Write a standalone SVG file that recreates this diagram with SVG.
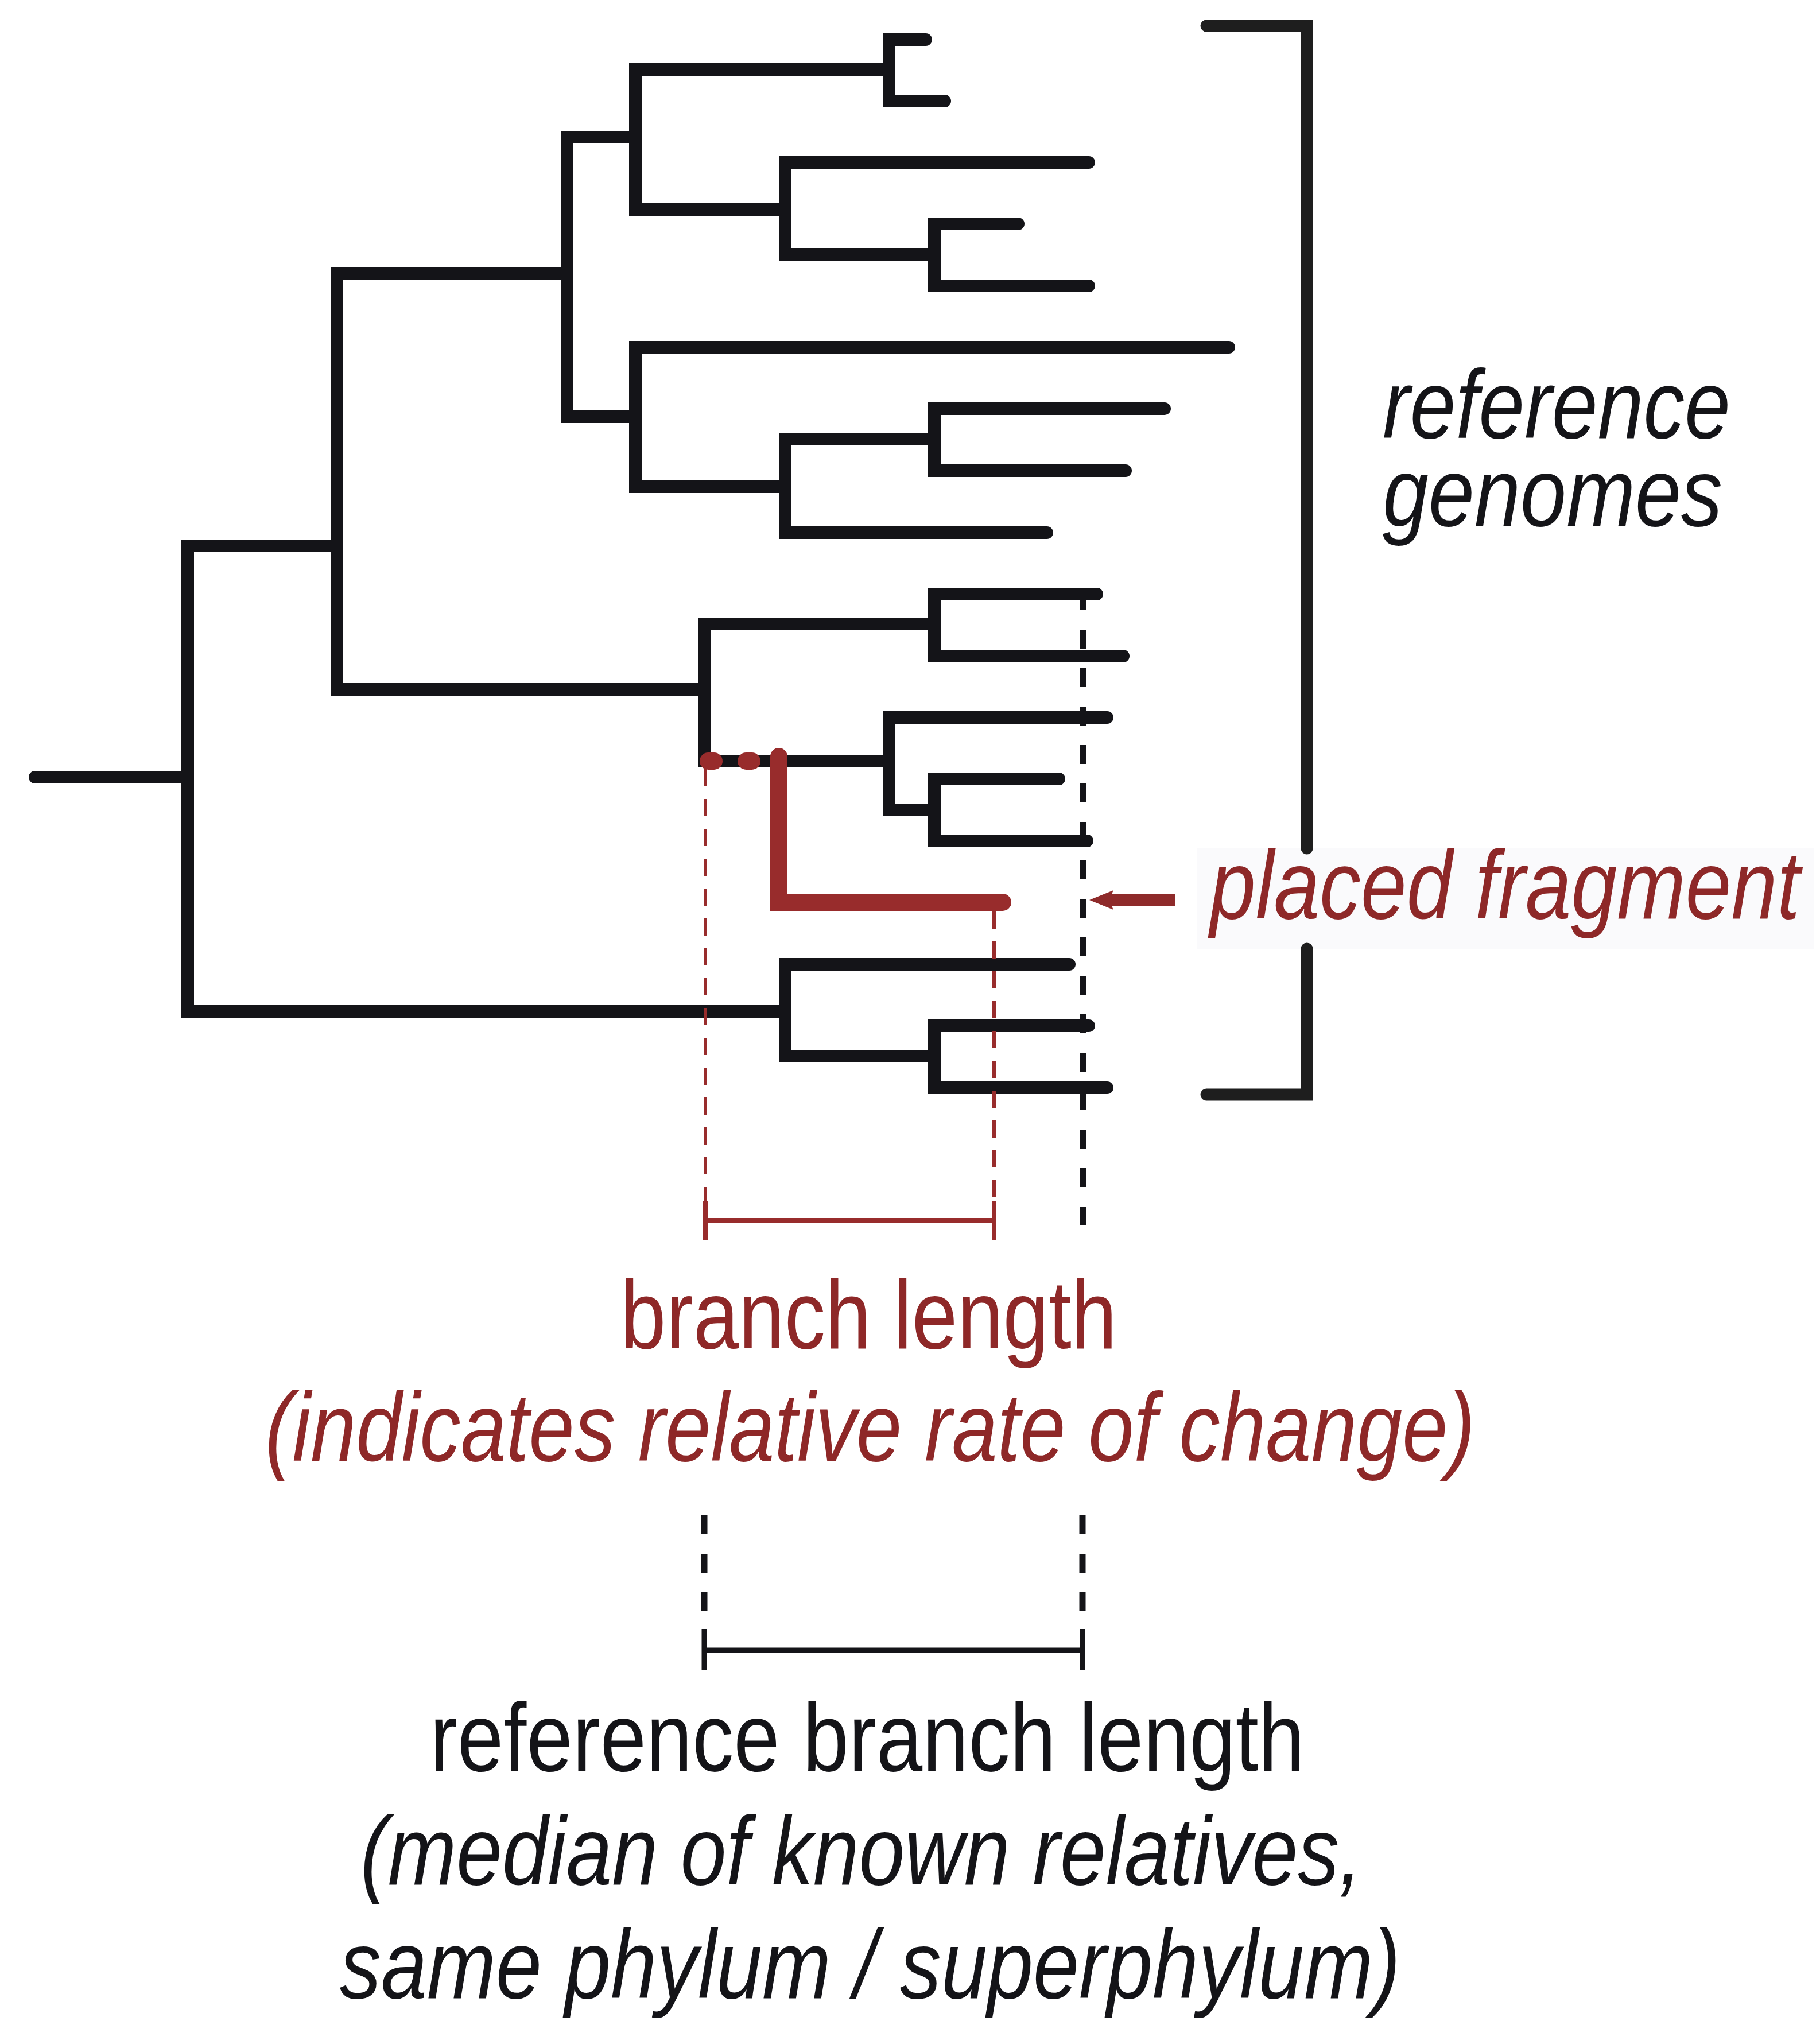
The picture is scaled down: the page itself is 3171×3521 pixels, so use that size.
<svg xmlns="http://www.w3.org/2000/svg" width="3171" height="3521" viewBox="0 0 3171 3521">
<defs>
<style>
.br{fill:none;stroke:#141418;stroke-width:22;stroke-linecap:round;stroke-linejoin:miter}
.frag{fill:none;stroke:#982c2c;stroke-width:30;stroke-linecap:round;stroke-linejoin:miter}
.rdash{fill:none;stroke:#982c2c;stroke-width:6;stroke-dasharray:30 22}
.kdash{fill:none;stroke:#141418;stroke-width:11;stroke-dasharray:33 34}
.rbar{fill:none;stroke:#982c2c;stroke-width:8}
.kbar{fill:none;stroke:#141418;stroke-width:9}
.brk{fill:none;stroke:#1e1e1e;stroke-width:21;stroke-linecap:round;stroke-linejoin:miter}
.bg{fill:#fafafc}
.t{font-family:"Liberation Sans",Arial,sans-serif;font-size:168px}
.it{font-style:italic}
.red{fill:#8e2828}
.blk{fill:#141418}
</style>
</defs>
<rect width="3171" height="3521" fill="#ffffff"/>

<rect class="bg" x="2085" y="1478" width="1075" height="175"/>

<g id="connectors">
<path class="br" d="M61,1354 H327"/>
<g id="node-A"><path class="br" d="M587,951 H327 V1762 H1368"/></g>
<g id="node-B"><path class="br" d="M988,476 H587 V1201 H1228"/></g>
<g id="node-C"><path class="br" d="M1107,239 H988 V726 H1107"/></g>
<g id="node-D"><path class="br" d="M1549,121 H1107 V365 H1368"/></g>
<g id="node-E"><path class="br" d="M1613,69 H1549 V176 H1646"/></g>
<g id="node-F"><path class="br" d="M1897,283 H1368 V443 H1628"/></g>
<g id="node-G"><path class="br" d="M1774,390 H1628 V498 H1897"/></g>
<g id="node-H"><path class="br" d="M2141,605 H1107 V848 H1368"/></g>
<g id="node-I"><path class="br" d="M1628,765 H1368 V928 H1824"/></g>
<g id="node-J"><path class="br" d="M2029,712 H1628 V820 H1961"/></g>
<g id="node-K"><path class="br" d="M1628,1087 H1228 V1326 H1549"/></g>
<g id="node-L"><path class="br" d="M1911,1035 H1628 V1143 H1957"/></g>
<g id="node-M"><path class="br" d="M1929,1250 H1549 V1411 H1628"/></g>
<g id="node-N"><path class="br" d="M1845,1357 H1628 V1465 H1894"/></g>
<g id="node-O"><path class="br" d="M1863,1680 H1368 V1840 H1628"/></g>
<g id="node-P"><path class="br" d="M1897,1787 H1628 V1895 H1929"/></g>

<path class="rdash" d="M1229,1340 V2093"/>
<path class="rdash" d="M1732,1588 V2093"/>
<path class="rbar" d="M1229,2093 V2160 M1732,2093 V2160 M1229,2126 H1732"/>
<path class="kdash" d="M1887,1030 V2135"/>
<path class="kdash" d="M1227,2640 V2838"/>
<path class="kdash" d="M1886,2640 V2838"/>
<path class="kbar" d="M1227,2838 V2910 M1886,2838 V2910 M1227,2875 H1886"/>

<path d="M2048,1568 H1930" stroke="#8e2a2a" stroke-width="20" fill="none"/>
<path d="M1898,1568 L1940,1551 L1932,1568 L1940,1585 Z" fill="#8e2a2a"/>
</g>

<g id="placed-fragment">
<path class="frag" d="M1234,1326 H1244 M1300,1326 H1310"/>
<path class="frag" d="M1357,1318 V1572 H1747"/>
</g>

<g id="bracket">
<path class="brk" d="M2102,45 H2277 V1478 M2277,1653 V1907 H2102"/>
</g>

<g id="label-reference-genomes">
<text class="t it blk" x="2409" y="763" textLength="606" lengthAdjust="spacingAndGlyphs">reference</text>
<text class="t it blk" x="2409" y="916" textLength="592" lengthAdjust="spacingAndGlyphs">genomes</text>
</g>

<g id="label-placed-fragment">
<text class="t it red" x="2108" y="1600" textLength="1028" lengthAdjust="spacingAndGlyphs">placed fragment</text>
</g>

<g id="label-branch-length">
<text class="t red" x="1081" y="2349" textLength="865" lengthAdjust="spacingAndGlyphs">branch length</text>
<text class="t it red" x="462" y="2545" textLength="2108" lengthAdjust="spacingAndGlyphs">(indicates relative rate of change)</text>
</g>

<g id="label-reference-branch-length">
<text class="t blk" x="749" y="3085" textLength="1524" lengthAdjust="spacingAndGlyphs">reference branch length</text>
<text class="t it blk" x="628" y="3283" textLength="1745" lengthAdjust="spacingAndGlyphs">(median of known relatives,</text>
<text class="t it blk" x="592" y="3481" textLength="1848" lengthAdjust="spacingAndGlyphs">same phylum / superphylum)</text>
</g>
</svg>
